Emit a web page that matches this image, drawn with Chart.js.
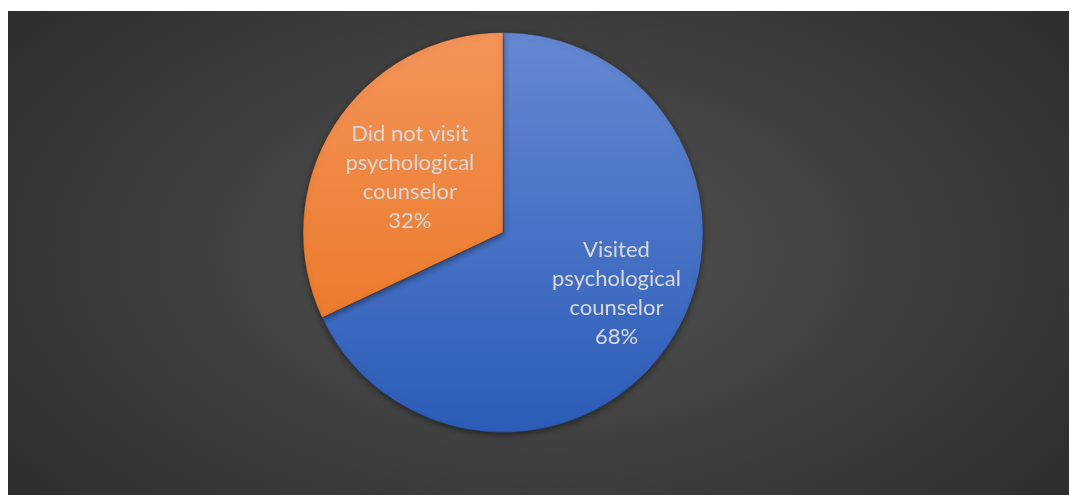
<!DOCTYPE html>
<html>
<head>
<meta charset="utf-8">
<script src="https://cdn.jsdelivr.net/npm/chart.js@4.4.1/dist/chart.umd.min.js"></script>
<style>
  html, body { margin: 0; padding: 0; background: #ffffff; }
  #box {
    position: absolute; left: 8px; top: 11px; width: 1061px; height: 484px;
    background: radial-gradient(ellipse 75% 95% at 50% 50%, #525252 0%, #3f3f3f 45%, #262626 100%);
  }
</style>
</head>
<body>
<div id="box"><canvas id="pie"></canvas></div>
<script>
// survey answers
var labels = ["Visited psychological counselor", "Did not visit psychological counselor"]
var label_lines = [["Visited", "psychological", "counselor"], ["Did not visit", "psychological", "counselor"]]
var values = [68, 32]
// top / bottom colours of each slice
var tops = ["#6588d2", "#f39459"]
var bottoms = ["#2b5cb8", "#e9701a"]

function sliceFill(c){
    var area = c.chart.chartArea
    if(!area) return tops[c.dataIndex]
    var g = c.chart.ctx.createLinearGradient(0, area.top, 0, area.bottom)
    g.addColorStop(0, tops[c.dataIndex])
    g.addColorStop(1, bottoms[c.dataIndex])
    return g
}

// soft shadow under the pie
var shadow = {
    id: 'shadow',
    beforeDatasetsDraw: function(chart){
        var ctx = chart.ctx
        ctx.save()
        ctx.shadowColor = 'rgba(0,0,0,0.45)'
        ctx.shadowBlur = 6
        ctx.shadowOffsetY = 2
    },
    afterDatasetsDraw: function(chart){
        chart.ctx.restore()
    }
}

// category name + percent inside each slice
var inLabels = {
    id: 'inLabels',
    afterDraw: function(chart){
        var ctx = chart.ctx
        var meta = chart.getDatasetMeta(0)
        var total = values.reduce(function(a, b){ return a + b }, 0)
        ctx.save()
        ctx.font = '22px Lato'
        ctx.fillStyle = '#d9d9d9'
        ctx.textAlign = 'center'
        ctx.textBaseline = 'middle'
        var dist = [0.645, 0.54]
        var turn = [-4, -2]   // degrees, nudges the label off the bisector
        meta.data.forEach(function(arc, i){
            var mid = (arc.startAngle + arc.endAngle) / 2 + turn[i] * Math.PI / 180
            var r = arc.outerRadius * dist[i]
            var x = arc.x + Math.cos(mid) * r
            var y = arc.y + Math.sin(mid) * r
            var lines = label_lines[i].concat([Math.round(values[i] / total * 100) + '%'])
            var h = 29
            lines.forEach(function(t, k){
                ctx.fillText(t, x, y + (k - (lines.length - 1) / 2) * h)
            })
        })
        ctx.restore()
    }
}

var chart = new Chart(document.getElementById('pie'), {
    type: 'pie',
    plugins: [shadow, inLabels],
    data: {
        labels: labels,
        datasets: [{
            data: values,
            backgroundColor: sliceFill,
            borderColor: 'rgba(40,40,40,0.35)',
            borderWidth: 1
        }]
    },
    options: {
        responsive: true,
        maintainAspectRatio: false,
        animation: false,
        layout: { padding: { left: 0, right: 71, top: 21, bottom: 62 } },
        plugins: {
            legend: { display: false },
            tooltip: { enabled: false }
        }
    }
})
</script>
</body>
</html>
